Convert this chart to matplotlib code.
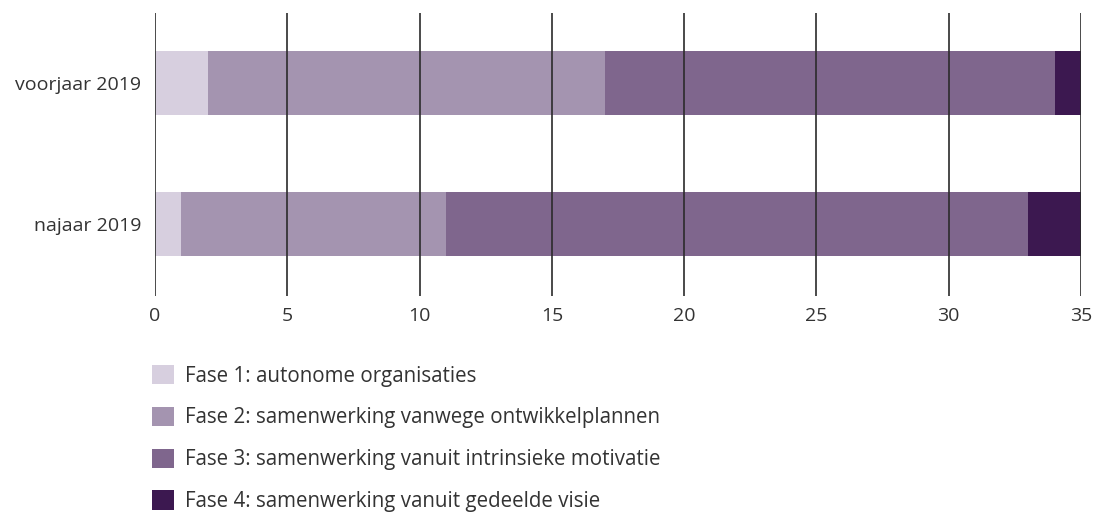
import matplotlib
matplotlib.use("Agg")
import matplotlib.pyplot as plt
from matplotlib.patches import Patch

plt.rcParams['font.family'] = ['Open Sans', 'DejaVu Sans']

periods = ["najaar 2019", "voorjaar 2019"]
fase1 = [1, 2]
fase2 = [10, 15]
fase3 = [22, 17]
fase4 = [2, 1]
labels = ["Fase 1: autonome organisaties",
          "Fase 2: samenwerking vanwege ontwikkelplannen",
          "Fase 3: samenwerking vanuit intrinsieke motivatie",
          "Fase 4: samenwerking vanuit gedeelde visie"]
colors = ["#d7cfdf", "#a494b0", "#7f668d", "#3c1850"]

fig = plt.figure(figsize=(10.93, 5.26), dpi=100)
ax = fig.add_axes([0.1418, 0.437, 0.8472, 0.538])

ypos = [0, 1]
left = [0, 0]
for vals, c in zip([fase1, fase2, fase3, fase4], colors):
    ax.barh(ypos, vals, left=left, height=0.454, color=c, zorder=1)
    left = [l + v for l, v in zip(left, vals)]

ax.set_xlim(0, 35)
ax.set_ylim(-0.51, 1.496)
ax.set_xticks(range(0, 36, 5))
ax.set_yticks(ypos)
ax.set_yticklabels(periods)
ax.grid(axis='x', color='#2b2b2b', linewidth=1.2, zorder=3)
ax.set_axisbelow(False)
for s in ax.spines.values():
    s.set_visible(False)
ax.tick_params(length=0, labelsize=14, colors='#333333', pad=8)
ax.tick_params(axis='y', pad=10)

handles = [Patch(facecolor=c, edgecolor='none') for c in colors]
fig.legend(handles, labels, loc='upper left', bbox_to_anchor=(0.1223, 0.3414),
           frameon=False, fontsize=14.8, handlelength=1.07, handleheight=1.07,
           labelspacing=0.98, handletextpad=0.55, labelcolor='#333333')

fig.savefig("out.png", dpi=100)
